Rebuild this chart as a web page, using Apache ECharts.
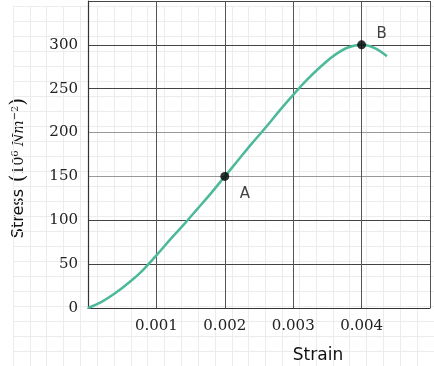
<!DOCTYPE html>
<html>
<head>
<meta charset="utf-8">
<script src="https://cdn.jsdelivr.net/npm/echarts@6/dist/echarts.min.js"></script>
<style>
html,body{margin:0;padding:0;background:#fff;}
#chart{width:434px;height:366px;}
</style>
</head>
<body>
<div id="chart"></div>
<script>
// ---- data ----
var strain = [0, 0.0002, 0.0004, 0.0006, 0.0008, 0.001, 0.0012, 0.0014, 0.0016, 0.0018, 0.002,
              0.0022, 0.0024, 0.0026, 0.0028, 0.003, 0.0032, 0.0034, 0.0036, 0.0038, 0.004, 0.0042, 0.00437];
var stress = [0, 7, 17, 29, 43, 60, 78, 95, 113, 131, 150,
              169, 188, 206, 225, 243, 260, 275, 288, 297, 300, 296, 287];
var pointNames = ['A', 'B'];
var pointStrain = [0.002, 0.004];
var pointStress = [150, 300];
var xTickValues = [0, 0.001, 0.002, 0.003, 0.004, 0.005];
var xTickLabels = ['', '0.001', '0.002', '0.003', '0.004', ''];
var yTickValues = [0, 50, 100, 150, 200, 250, 300, 350];
var yTickLabels = ['0', '50', '100', '150', '200', '250', '300', ''];
var xTitle = 'Strain';
var yTitleMain = 'Stress';

var chart = echarts.init(document.getElementById('chart'), null, {renderer: 'canvas'});

function labelFor(values, labels) {
  return function (v) {
    for (var i = 0; i < values.length; i++) {
      if (Math.abs(values[i] - v) < 1e-9) return labels[i];
    }
    return '';
  };
}

var lineData = strain.map(function (s, i) { return [s, stress[i]]; });
var markData = pointNames.map(function (n, i) { return {name: n, value: [pointStrain[i], pointStress[i]]}; });

var serif = '"DejaVu Serif", "Liberation Serif", serif';
var sans = '"DejaVu Sans", "Liberation Sans", sans-serif';

var option = {
  backgroundColor: '#fff',
  animation: false,
  grid: [
    {left: 13, right: 0, top: 6, bottom: 0, containLabel: false, outerBoundsMode: 'none'},
    {left: 88, right: 4, top: 1, bottom: 58, containLabel: false, outerBoundsMode: 'none'}
  ],
  xAxis: [
    {gridIndex: 0, type: 'value', min: 0, max: 433.5, interval: 17.33, z: 0,
     axisLine: {show: false}, axisTick: {show: false}, axisLabel: {show: false},
     splitLine: {show: true, lineStyle: {color: '#ececec', width: 1}}},
    {gridIndex: 1, type: 'value', min: 0, max: 0.005, interval: 0.001, z: 2,
     axisLine: {show: true, onZero: false, lineStyle: {color: '#333', width: 1.2}},
     axisTick: {show: false},
     axisLabel: {show: true, margin: 11, color: '#222', fontFamily: serif, fontSize: 15,
                 formatter: labelFor(xTickValues, xTickLabels)},
     splitLine: {show: true, lineStyle: {color: '#555', width: 1}},
     name: xTitle, nameLocation: 'middle', nameGap: 39,
     nameTextStyle: {fontFamily: sans, fontSize: 17, color: '#111', padding: [0, 0, 0, 118]}}
  ],
  yAxis: [
    {gridIndex: 0, type: 'value', min: 0, max: 372, interval: 15.5, inverse: true, z: 0,
     axisLine: {show: false}, axisTick: {show: false}, axisLabel: {show: false},
     splitLine: {show: true, lineStyle: {color: '#ececec', width: 1}}},
    {gridIndex: 1, type: 'value', min: 0, max: 350, interval: 50, z: 2,
     axisLine: {show: true, onZero: false, lineStyle: {color: '#333', width: 1.2}},
     axisTick: {show: false},
     axisLabel: {show: true, margin: 10, color: '#222', fontFamily: serif, fontSize: 15,
                 formatter: labelFor(yTickValues, yTickLabels)},
     splitLine: {show: true, lineStyle: {
       color: ['#444', '#444', '#444', '#999', '#999', '#444', '#444', '#444'], width: 1}}}
  ],
  series: [
    {
      type: 'line', xAxisIndex: 1, yAxisIndex: 1,
      data: lineData, smooth: 0.35, showSymbol: false, symbol: 'none',
      lineStyle: {color: '#4cb99a', width: 2.5}, z: 3
    },
    {
      type: 'scatter', xAxisIndex: 1, yAxisIndex: 1,
      data: markData, symbolSize: 9,
      itemStyle: {color: '#000'}, z: 4,
      label: {
        show: true, formatter: '{b}', color: '#111', fontFamily: sans, fontSize: 15,
        position: 'inside'
      }
    }
  ],
  graphic: [
    {
      type: 'text', x: 19, y: 168, rotation: Math.PI / 2,
      style: {
        text: '{a|' + yTitleMain + '}  {p|(}{b|10}{s|6}{b| }{c|Nm}{s|−2}{p|)}',
        align: 'center', verticalAlign: 'middle',
        rich: {
          a: {fontFamily: sans, fontSize: 16, fill: '#111', lineHeight: 24, verticalAlign: 'middle'},
          b: {fontFamily: serif, fontSize: 14, fill: '#111', lineHeight: 24, verticalAlign: 'middle'},
          c: {fontFamily: serif, fontSize: 14, fontStyle: 'italic', fill: '#111', lineHeight: 24, verticalAlign: 'middle'},
          s: {fontFamily: serif, fontSize: 10, fill: '#111', lineHeight: 24, verticalAlign: 'top', padding: [3, 0, 0, 0]},
          p: {fontFamily: serif, fontSize: 20, fill: '#111', lineHeight: 24, verticalAlign: 'middle'}
        }
      }
    }
  ]
};

// per-point label offsets for A (below right) and B (above right)
option.series[1].data[0].label = {offset: [20, 18]};
option.series[1].data[1].label = {offset: [20, -11]};

chart.setOption(option);
</script>
</body>
</html>
